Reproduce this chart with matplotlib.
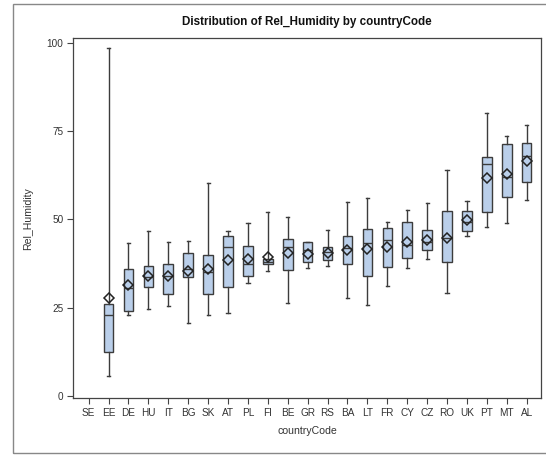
import matplotlib.pyplot as plt
from matplotlib.patches import Rectangle

plt.rcParams["font.family"] = ["Liberation Sans", "DejaVu Sans"]

# Country codes in plot order (SE has no data)
countries = ["SE", "EE", "DE", "HU", "IT", "BG", "SK", "AT", "PL", "FI", "BE", "GR",
             "RS", "BA", "LT", "FR", "CY", "CZ", "RO", "UK", "PT", "MT", "AL"]

# Box statistics (for EE .. AL)
whisk_lo = [5.8, 22.9, 24.5, 25.6, 20.6, 22.9, 23.4, 31.9, 35.5, 26.2, 36.3,
            36.8, 27.8, 25.8, 31.2, 36.3, 38.7, 29.1, 45.3, 47.7, 48.9, 55.5]
q1 = [12.4, 24.2, 30.9, 28.9, 33.8, 28.8, 30.9, 34.1, 37.3, 35.7, 37.8,
      38.5, 37.3, 34.0, 36.4, 39.1, 41.3, 37.8, 46.7, 52.2, 56.2, 60.7]
median = [22.9, 30.7, 33.8, 34.0, 35.9, 35.2, 42.1, 37.3, 38.0, 42.3, 41.3,
          40.8, 41.8, 43.4, 44.2, 42.7, 43.7, 44.6, 49.3, 65.6, 62.1, 68.0]
q3 = [26.0, 35.9, 36.8, 37.5, 40.6, 39.9, 45.3, 42.6, 38.7, 44.3, 43.6,
      42.1, 45.3, 47.2, 47.5, 49.3, 47.0, 52.3, 52.3, 67.7, 71.2, 71.5]
whisk_hi = [98.4, 43.2, 46.7, 43.7, 44.0, 60.2, 46.7, 49.1, 52.0, 50.8, 43.7,
            47.0, 55.0, 56.0, 49.2, 52.6, 54.7, 64.0, 55.3, 80.2, 73.6, 76.8]
mean = [27.6, 31.4, 33.9, 34.0, 35.5, 36.0, 38.5, 38.7, 39.4, 40.4, 40.1,
        40.6, 41.3, 41.6, 42.3, 43.5, 44.2, 44.6, 49.8, 61.6, 62.7, 66.6]

stats = []
for i in range(len(q1)):
    stats.append({
        "whislo": whisk_lo[i], "q1": q1[i], "med": median[i], "q3": q3[i],
        "whishi": whisk_hi[i], "mean": mean[i], "fliers": [],
    })

fig = plt.figure(figsize=(5.46, 4.55), dpi=100)
ax = fig.add_axes([73.3 / 546, 1 - 398.3 / 455, (541 - 73.3) / 546, (398.3 - 38.3) / 455])

edge = "#3c3c3c"
ax.bxp(
    stats,
    positions=list(range(1, len(countries))),
    widths=0.48,
    capwidths=0.16,
    patch_artist=True,
    showmeans=True,
    boxprops=dict(facecolor="#BACFEA", edgecolor=edge, linewidth=1.0),
    medianprops=dict(color=edge, linewidth=1.0),
    whiskerprops=dict(color=edge, linewidth=1.0),
    capprops=dict(color=edge, linewidth=1.0),
    meanprops=dict(marker="D", markersize=5.5, markerfacecolor="none",
                   markeredgecolor="#222222", markeredgewidth=1.1),
)

ax.set_xlim(-0.77, 22.72)
ax.set_ylim(-0.65, 101.25)
ax.set_xticks(range(len(countries)))
ax.set_xticklabels(countries)
ax.set_yticks([0, 25, 50, 75, 100])
ax.tick_params(axis="both", direction="out", length=4, width=0.8, color="#444444",
               labelsize=7.2, labelcolor="#333333", pad=3)
for s in ax.spines.values():
    s.set_color("#444444")
    s.set_linewidth(0.9)

ax.set_xlabel("countryCode", fontsize=7.6, color="#333333", labelpad=6)
ax.set_ylabel("Rel_Humidity", fontsize=7.6, color="#333333", labelpad=10)
fig.text(0.5 * (73.3 + 541) / 546, 1 - 22.5 / 455,
         "Distribution of Rel_Humidity by countryCode",
         ha="center", va="center", fontsize=8.4, fontweight="bold", color="#111111")

# outer frame around the graph
fig.patches.append(Rectangle((12.7 / 546, 1 - 452.7 / 455), 1.0, (452.7 - 4.3) / 455,
                             transform=fig.transFigure, fill=False,
                             edgecolor="#888888", linewidth=1.0, clip_on=False))

fig.savefig("out.png", dpi=100)
